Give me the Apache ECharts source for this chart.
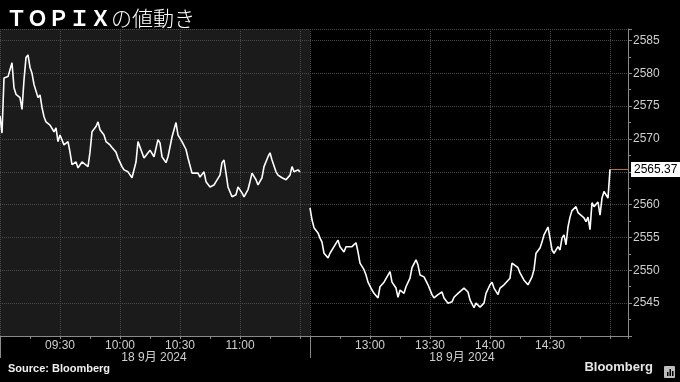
<!DOCTYPE html>
<html><head><meta charset="utf-8">
<script src="https://cdn.jsdelivr.net/npm/echarts@6/dist/echarts.min.js"></script>
<style>html,body{margin:0;padding:0;background:#000;}#c{width:680px;height:382px;}</style>
</head><body><div id="c"></div>
<script>
// ---- text ----
const titleLatin = 'ＴＯＰＩＸ';
const titleRest = 'の値動き';
const sourceText = 'Source: Bloomberg';
const brandText = 'Bloomberg';
const dateLabel = '18 9月 2024';

// ---- sessions (minutes of day) ----
const morningOpen = '09:00';
const afternoonOpen = '12:30';
const morningTickLabels = ['09:30', '10:00', '10:30', '11:00'];
const afternoonTickLabels = ['13:00', '13:30', '14:00', '14:30'];

// ---- y axis ----
const yMin = 2540;
const yMax = 2586.75;
const yStep = 5;

// ---- data: minutes after session open, TOPIX level ----
const morningMinutes = [0,1,2,4,6,7,8,10,11,12,13,14,15,16,17,19,20,21,22,23,25,27,28,29,30,32,34,35,36,38,39,41,42,44,45,46,48,49,50,52,53,55,56,58,59,61,62,64,65,66,68,69,70,72,73,75,77,79,80,81,83,84,86,87,88,89,91,93,94,96,97,99,100,102,103,105,107,108,110,111,112,113,114,116,118,119,121,122,124,125,126,128,129,131,132,134,135,136,138,139,141,143,144,145,146,147,149,150];
const morningValues = [2573.5,2570.9,2579.3,2579.5,2581.6,2577.8,2576.8,2576.3,2574.5,2579,2582.4,2582.8,2580.9,2580,2578.3,2576.3,2576.7,2574.8,2573.4,2572.6,2572.1,2571.1,2571.7,2569.6,2570.6,2569.1,2569.6,2568,2566.1,2566.5,2565.6,2566.5,2566.8,2565.8,2568,2571.1,2571.9,2572.6,2571.4,2570.6,2569.6,2569.1,2568.7,2568,2567.1,2565.8,2565.3,2565,2564.8,2564.1,2566.5,2569.6,2569.9,2567.1,2567.3,2568.3,2567.3,2569.9,2569.4,2567.3,2566.4,2567.3,2570.3,2571.4,2572.5,2570.6,2569.6,2568.4,2567.1,2564.8,2564.5,2564.8,2564.2,2565,2563.5,2562.7,2563,2563.5,2564.5,2566.4,2566.8,2564.8,2562.7,2561.2,2561.5,2562.7,2561.8,2561.2,2562.3,2563.5,2564.8,2563.8,2563,2564.1,2565.8,2567.3,2567.9,2566.8,2565,2564.5,2564.1,2563.8,2563.5,2564.5,2565.8,2565,2565.3,2565];
const afternoonMinutes = [0,1,2,4,5,6,7,9,10,12,14,15,17,18,19,21,23,24,25,27,28,29,31,32,34,35,37,38,40,41,43,44,45,47,48,50,51,53,54,55,57,58,59,61,62,64,66,67,69,71,72,74,77,79,80,82,83,85,87,88,90,91,92,94,95,97,98,100,101,102,104,105,107,109,110,111,112,113,115,116,117,119,120,121,122,124,125,126,127,128,129,130,131,133,134,135,137,138,139,140,141,142,144,145,146,147,148,149,150];
const afternoonValues = [2559.5,2557.7,2556.5,2555.7,2554.9,2554.3,2552.6,2551.9,2552.6,2553.6,2554.6,2553.6,2552.8,2553.6,2553.4,2553.6,2554.2,2552.8,2551.1,2550.1,2549.3,2548.2,2547,2546.5,2545.8,2547.5,2548.2,2548.5,2549.8,2548.2,2547.3,2545.9,2547,2546.5,2547.5,2548.8,2550.4,2551.6,2550.8,2549.3,2549,2549.3,2547.8,2546.3,2545.8,2546.3,2546.7,2545.8,2545,2545.2,2545.9,2546.5,2547.3,2546.7,2545.5,2544.3,2545,2544.4,2545,2546.5,2547.8,2548.2,2547.3,2546.3,2547.3,2547.8,2547.5,2548.8,2551.1,2551.3,2550.4,2549.6,2548.5,2547.8,2547.5,2549,2550.1,2552.6,2553.4,2554.3,2555.4,2556.6,2554.9,2553.1,2552.6,2553.6,2553.1,2554.9,2555.4,2553.9,2556.6,2558.1,2559.1,2559.7,2558.8,2558.9,2558,2557.4,2558.1,2556.2,2560.3,2559.7,2560.4,2558.4,2561,2562,2562.3,2561,2565.37];

// ---- helpers ----
const toMin = s => { const [h, m] = s.split(':').map(Number); return h * 60 + m; };
const fmt = v => { const h = Math.floor(v / 60), m = Math.round(v % 60); return String(h).padStart(2, '0') + ':' + String(m).padStart(2, '0'); };
const mOpen = toMin(morningOpen), aOpen = toMin(afternoonOpen);
const mData = morningMinutes.map((m, i) => [mOpen + m, morningValues[i]]);
const aData = afternoonMinutes.map((m, i) => [aOpen + m, afternoonValues[i]]);
const lastPt = aData[aData.length - 1];

const FONT = "'Liberation Sans','Noto Sans CJK JP',sans-serif";
const axisGray = '#8a8a8a';
const gridLine = { show: true, lineStyle: { color: '#4a4a4a', type: 'dotted', width: 1 } };

const mMin = mOpen, mMax = mOpen + 155;
const aMin = aOpen, aMax = aOpen + 159;

function timeAxis(grid, min, max, labels) {
  return {
    type: 'value', gridIndex: grid, min, max, interval: 30, position: 'bottom',
    axisLine: { show: true, lineStyle: { color: axisGray } },
    axisTick: { show: true, length: 3, lineStyle: { color: axisGray } },
    minorTick: { show: true, splitNumber: 2, length: 3, lineStyle: { color: axisGray } },
    axisLabel: { customValues: labels.map(toMin), formatter: v => fmt(v), color: '#cfcfcf', fontSize: 12, fontFamily: FONT, margin: 4 },
    splitLine: gridLine
  };
}
function dateAxis(grid, min, max, at) {
  return {
    type: 'value', gridIndex: grid, min, max, position: 'bottom',
    axisLine: { show: false },
    axisTick: { show: true, customValues: [min], length: 22, lineStyle: { color: axisGray } },
    axisLabel: { customValues: [at], formatter: () => dateLabel, color: '#cfcfcf', fontSize: 12, fontFamily: FONT, margin: 16 },
    splitLine: { show: false }
  };
}

const chart = echarts.init(document.getElementById('c'), null, { renderer: 'canvas' });
chart.setOption({
  backgroundColor: '#000',
  animation: false,
  title: [
    { text: '{b|' + titleLatin + '}{n|' + titleRest + '}', left: 1, top: 3,
      textStyle: { rich: {
        b: { fontFamily: "'Noto Sans CJK JP'", fontWeight: 'bold', fontSize: 21, color: '#fff' },
        n: { fontFamily: "'Noto Sans CJK JP'", fontWeight: 300, fontSize: 21, color: '#fff' } } } },
    { text: sourceText, left: 3, bottom: 3, textStyle: { fontFamily: FONT, fontWeight: 'bold', fontSize: 11, color: '#f0f0f0' } },
    { text: brandText, right: 22, bottom: 3, textStyle: { fontFamily: FONT, fontWeight: 'bold', fontSize: 13, color: '#e6e6e6' } }
  ],
  graphic: [
    { type: 'group', right: 5, bottom: 4, children: [
      { type: 'rect', shape: { x: 0, y: 0, width: 11, height: 12, r: 1 }, style: { fill: '#bdbdbd' } },
      { type: 'rect', shape: { x: 3, y: 6, width: 1.5, height: 4 }, style: { fill: '#000' } },
      { type: 'rect', shape: { x: 5.5, y: 3, width: 1.5, height: 7 }, style: { fill: '#000' } },
      { type: 'rect', shape: { x: 8, y: 5, width: 1.5, height: 5 }, style: { fill: '#000' } }
    ] }
  ],
  grid: [
    { left: 0, top: 29, width: 310, bottom: 46, show: true, backgroundColor: '#1b1b1b', borderWidth: 0 },
    { left: 310, top: 29, right: 52, bottom: 46, show: false }
  ],
  xAxis: [
    timeAxis(0, mMin, mMax, morningTickLabels),
    timeAxis(1, aMin, aMax, afternoonTickLabels),
    dateAxis(0, mMin, mMax, mOpen + 77),
    dateAxis(1, aMin, aMax, aOpen + 76)
  ],
  yAxis: [
    { type: 'value', gridIndex: 0, min: yMin, max: yMax, interval: yStep,
      axisLine: { show: false }, axisTick: { show: false }, axisLabel: { show: false }, splitLine: gridLine },
    { type: 'value', gridIndex: 1, min: yMin, max: yMax, interval: yStep, position: 'right',
      axisLine: { show: true, lineStyle: { color: axisGray } },
      axisTick: { show: true, length: 4, lineStyle: { color: axisGray } },
      minorTick: { show: true, splitNumber: 2, length: 3, lineStyle: { color: axisGray } },
      axisLabel: { color: '#cfcfcf', fontSize: 12, fontFamily: FONT, margin: 5, showMinLabel: false, showMaxLabel: false,
        formatter: v => String(v) },
      splitLine: gridLine }
  ],
  series: [
    { type: 'line', xAxisIndex: 0, yAxisIndex: 0, data: mData, showSymbol: false,
      lineStyle: { color: '#ffffff', width: 1.6 }, z: 5 },
    { type: 'line', xAxisIndex: 1, yAxisIndex: 1, data: aData, showSymbol: false,
      lineStyle: { color: '#ffffff', width: 1.6 }, z: 5,
      markLine: { silent: true, symbol: ['none', 'none'],
        lineStyle: { color: '#b0702e', type: 'solid', width: 1 },
        data: [[{ coord: lastPt }, { coord: [aMax, lastPt[1]] }]],
        label: { show: true, position: 'end', distance: 3, formatter: () => lastPt[1].toFixed(2),
          backgroundColor: '#ffffff', color: '#000', fontFamily: FONT, fontSize: 12, padding: [2, 3, 1, 3] } } }
  ]
});
</script>
</body></html>
